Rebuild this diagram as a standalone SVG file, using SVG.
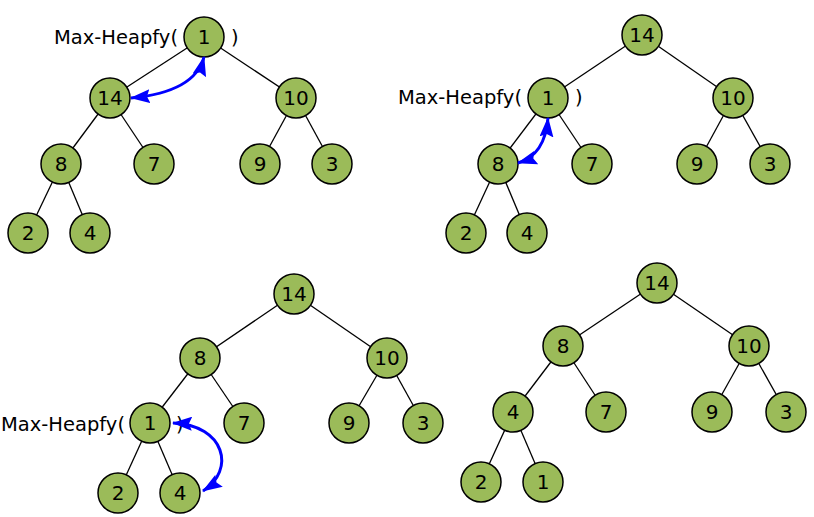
<svg xmlns="http://www.w3.org/2000/svg" width="814" height="517" viewBox="0 0 814 517">
<style>
.n{fill:#9bbb59;stroke:#000;stroke-width:1.5}
.t{font-family:"DejaVu Sans",sans-serif;font-size:20px;fill:#000;text-anchor:middle}
.lbl{font-family:"DejaVu Sans",sans-serif;font-size:19.5px;fill:#000}
.e{stroke:#000;stroke-width:1.3;fill:none}
.a{stroke:#0000ff;stroke-width:3;fill:none;marker-start:url(#ah);marker-end:url(#ah)}
</style>
<defs>
<marker id="ah" markerUnits="userSpaceOnUse" viewBox="0 0 20 14" refX="19" refY="7" markerWidth="20" markerHeight="14" orient="auto-start-reverse">
<path d="M0,0 L20,7 L0,14 L3,7 z" fill="#0000ff"/>
</marker>
</defs>
<rect width="814" height="517" fill="#fff"/>
<g id="connectors">
<line class="e" x1="204" y1="37" x2="110" y2="98"/>
<line class="e" x1="204" y1="37" x2="296" y2="98"/>
<line class="e" x1="110" y1="98" x2="61" y2="164"/>
<line class="e" x1="110" y1="98" x2="154" y2="164"/>
<line class="e" x1="296" y1="98" x2="260" y2="164"/>
<line class="e" x1="296" y1="98" x2="332" y2="164"/>
<line class="e" x1="61" y1="164" x2="28" y2="233"/>
<line class="e" x1="61" y1="164" x2="90" y2="233"/>
<line class="e" x1="642" y1="35" x2="548" y2="98"/>
<line class="e" x1="642" y1="35" x2="733" y2="98"/>
<line class="e" x1="548" y1="98" x2="498" y2="164"/>
<line class="e" x1="548" y1="98" x2="592" y2="164"/>
<line class="e" x1="733" y1="98" x2="697" y2="164"/>
<line class="e" x1="733" y1="98" x2="770" y2="164"/>
<line class="e" x1="498" y1="164" x2="466" y2="233"/>
<line class="e" x1="498" y1="164" x2="527" y2="233"/>
<line class="e" x1="294" y1="294" x2="200" y2="358"/>
<line class="e" x1="294" y1="294" x2="387" y2="358"/>
<line class="e" x1="200" y1="358" x2="150" y2="423"/>
<line class="e" x1="200" y1="358" x2="244" y2="423"/>
<line class="e" x1="387" y1="358" x2="349" y2="423"/>
<line class="e" x1="387" y1="358" x2="423" y2="423"/>
<line class="e" x1="150" y1="423" x2="118" y2="493"/>
<line class="e" x1="150" y1="423" x2="180" y2="493"/>
<line class="e" x1="657" y1="283" x2="563" y2="346"/>
<line class="e" x1="657" y1="283" x2="749" y2="346"/>
<line class="e" x1="563" y1="346" x2="513" y2="412"/>
<line class="e" x1="563" y1="346" x2="606" y2="412"/>
<line class="e" x1="749" y1="346" x2="712" y2="412"/>
<line class="e" x1="749" y1="346" x2="786" y2="412"/>
<line class="e" x1="513" y1="412" x2="481" y2="482"/>
<line class="e" x1="513" y1="412" x2="543" y2="482"/>
</g>
<g id="t1">
<g id="t1-n1"><circle class="n" cx="204" cy="37" r="20"/><text class="t" x="204" y="44">1</text></g>
<g id="t1-n14"><circle class="n" cx="110" cy="98" r="20"/><text class="t" x="110" y="105">14</text></g>
<g id="t1-n10"><circle class="n" cx="296" cy="98" r="20"/><text class="t" x="296" y="105">10</text></g>
<g id="t1-n8"><circle class="n" cx="61" cy="164" r="20"/><text class="t" x="61" y="171">8</text></g>
<g id="t1-n7"><circle class="n" cx="154" cy="164" r="20"/><text class="t" x="154" y="171">7</text></g>
<g id="t1-n9"><circle class="n" cx="260" cy="164" r="20"/><text class="t" x="260" y="171">9</text></g>
<g id="t1-n3"><circle class="n" cx="332" cy="164" r="20"/><text class="t" x="332" y="171">3</text></g>
<g id="t1-n2"><circle class="n" cx="28" cy="233" r="20"/><text class="t" x="28" y="240">2</text></g>
<g id="t1-n4"><circle class="n" cx="90" cy="233" r="20"/><text class="t" x="90" y="240">4</text></g>
<text class="lbl" x="54" y="44">Max-Heapfy(</text>
<text class="lbl" x="231" y="44">)</text>
</g>
<g id="t2">
<g id="t2-n14"><circle class="n" cx="642" cy="35" r="20"/><text class="t" x="642" y="42">14</text></g>
<g id="t2-n1"><circle class="n" cx="548" cy="98" r="20"/><text class="t" x="548" y="105">1</text></g>
<g id="t2-n10"><circle class="n" cx="733" cy="98" r="20"/><text class="t" x="733" y="105">10</text></g>
<g id="t2-n8"><circle class="n" cx="498" cy="164" r="20"/><text class="t" x="498" y="171">8</text></g>
<g id="t2-n7"><circle class="n" cx="592" cy="164" r="20"/><text class="t" x="592" y="171">7</text></g>
<g id="t2-n9"><circle class="n" cx="697" cy="164" r="20"/><text class="t" x="697" y="171">9</text></g>
<g id="t2-n3"><circle class="n" cx="770" cy="164" r="20"/><text class="t" x="770" y="171">3</text></g>
<g id="t2-n2"><circle class="n" cx="466" cy="233" r="20"/><text class="t" x="466" y="240">2</text></g>
<g id="t2-n4"><circle class="n" cx="527" cy="233" r="20"/><text class="t" x="527" y="240">4</text></g>
<text class="lbl" x="398" y="104">Max-Heapfy(</text>
<text class="lbl" x="575" y="104">)</text>
</g>
<g id="t3">
<g id="t3-n14"><circle class="n" cx="294" cy="294" r="20"/><text class="t" x="294" y="301">14</text></g>
<g id="t3-n8"><circle class="n" cx="200" cy="358" r="20"/><text class="t" x="200" y="365">8</text></g>
<g id="t3-n10"><circle class="n" cx="387" cy="358" r="20"/><text class="t" x="387" y="365">10</text></g>
<g id="t3-n1"><circle class="n" cx="150" cy="423" r="20"/><text class="t" x="150" y="430">1</text></g>
<g id="t3-n7"><circle class="n" cx="244" cy="423" r="20"/><text class="t" x="244" y="430">7</text></g>
<g id="t3-n9"><circle class="n" cx="349" cy="423" r="20"/><text class="t" x="349" y="430">9</text></g>
<g id="t3-n3"><circle class="n" cx="423" cy="423" r="20"/><text class="t" x="423" y="430">3</text></g>
<g id="t3-n2"><circle class="n" cx="118" cy="493" r="20"/><text class="t" x="118" y="500">2</text></g>
<g id="t3-n4"><circle class="n" cx="180" cy="493" r="20"/><text class="t" x="180" y="500">4</text></g>
<text class="lbl" x="1" y="431">Max-Heapfy(</text>
<text class="lbl" x="176" y="431">)</text>
</g>
<g id="t4">
<g id="t4-n14"><circle class="n" cx="657" cy="283" r="20"/><text class="t" x="657" y="290">14</text></g>
<g id="t4-n8"><circle class="n" cx="563" cy="346" r="20"/><text class="t" x="563" y="353">8</text></g>
<g id="t4-n10"><circle class="n" cx="749" cy="346" r="20"/><text class="t" x="749" y="353">10</text></g>
<g id="t4-n4"><circle class="n" cx="513" cy="412" r="20"/><text class="t" x="513" y="419">4</text></g>
<g id="t4-n7"><circle class="n" cx="606" cy="412" r="20"/><text class="t" x="606" y="419">7</text></g>
<g id="t4-n9"><circle class="n" cx="712" cy="412" r="20"/><text class="t" x="712" y="419">9</text></g>
<g id="t4-n3"><circle class="n" cx="786" cy="412" r="20"/><text class="t" x="786" y="419">3</text></g>
<g id="t4-n2"><circle class="n" cx="481" cy="482" r="20"/><text class="t" x="481" y="489">2</text></g>
<g id="t4-n1"><circle class="n" cx="543" cy="482" r="20"/><text class="t" x="543" y="489">1</text></g>
</g>
<g id="swap-arrows">
<path class="a" d="M131,98 Q195,92 204,57"/>
<path class="a" d="M518,163 Q545,155 548,118"/>
<path class="a" d="M173,423 C225,425 236,470 203,491"/>
</g>
</svg>
